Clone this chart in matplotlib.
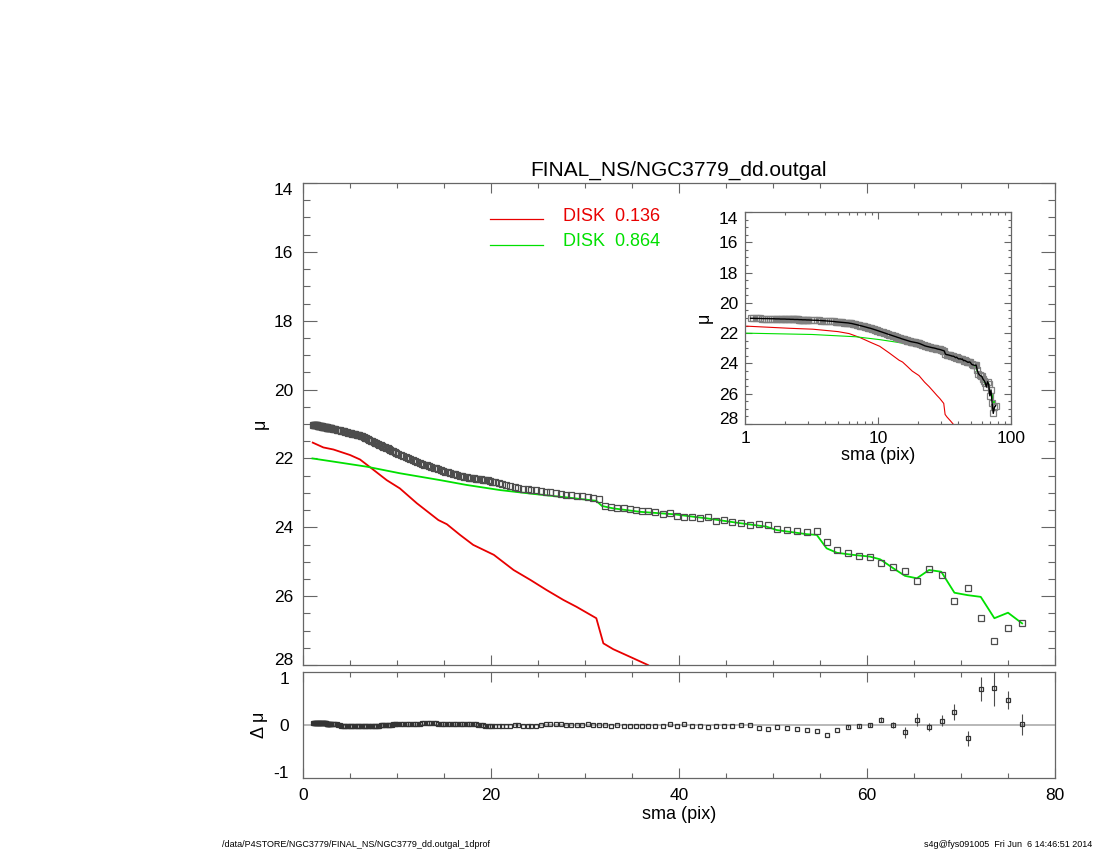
import matplotlib
matplotlib.use('Agg')
import matplotlib.pyplot as plt
import numpy as np
from matplotlib.ticker import MultipleLocator, LogLocator, NullFormatter, FixedLocator

plt.rcParams['font.family'] = ['Liberation Sans', 'DejaVu Sans']

# ---- data ----
# isophote semi-major axes (pix)
sma = [1.10, 1.15, 1.20, 1.25, 1.30, 1.35, 1.40, 1.45, 1.50, 1.55, 1.60, 1.65, 1.70,
       1.75, 1.80, 1.85, 1.90, 1.95, 2.00, 2.05, 2.10, 2.15, 2.20, 2.25, 2.30, 2.35,
       2.40, 2.45, 2.50, 2.55, 2.60, 2.65, 2.70, 2.75, 2.80, 2.85, 2.90, 2.95, 3.00,
       3.15, 3.30, 3.45, 3.60, 3.75, 3.90, 4.05, 4.20, 4.35, 4.50, 4.65, 4.80, 4.95,
       5.10, 5.25, 5.40, 5.55, 5.70, 5.85, 6.00, 6.15, 6.30, 6.45, 6.60, 6.75, 6.90,
       7.05, 7.20, 7.35, 7.50, 7.65, 7.80, 7.95, 8.10, 8.25, 8.40, 8.55, 8.70, 8.85,
       9.00, 9.15, 9.30, 9.45, 9.60, 9.75, 9.90,
       10.15, 10.40, 10.65, 10.90, 11.15, 11.40, 11.65, 11.90, 12.15, 12.40, 12.65, 12.90,
       13.15, 13.40, 13.65, 13.90, 14.15, 14.40, 14.65, 14.90, 15.15, 15.40, 15.65, 15.90,
       16.15, 16.40, 16.65, 16.90, 17.15, 17.40, 17.65, 17.90, 18.15, 18.40, 18.65, 18.90,
       19.15, 19.40, 19.65, 19.90, 20.15, 20.40,
       20.8, 21.2, 21.6, 22.0, 22.5, 22.9, 23.4, 23.9, 24.3, 24.8, 25.3, 25.8, 26.3, 26.9,
       27.4, 28.0, 28.5, 29.1, 29.7, 30.3, 30.9, 31.5, 32.1, 32.8, 33.4, 34.1, 34.8, 35.4,
       36.03, 36.74, 37.45, 38.26, 39.04, 39.75, 40.57, 41.42, 42.23, 43.05, 43.94, 44.79,
       45.67, 46.6, 47.55, 48.51, 49.43, 50.46, 51.45, 52.52, 53.58, 54.65, 55.74, 56.84,
       57.98, 59.15, 60.32, 61.53, 62.8, 64.04, 65.29, 66.63, 67.94, 69.29, 70.71, 72.1,
       73.55, 75.0, 76.52]

# surface brightness (mag/arcsec^2)
mu = [21.02, 21.02, 21.03, 21.03, 21.03, 21.04, 21.04, 21.04, 21.04, 21.05, 21.05, 21.05,
      21.06, 21.06, 21.06, 21.07, 21.07, 21.07, 21.07, 21.08, 21.08, 21.08, 21.09, 21.09,
      21.09, 21.10, 21.10, 21.10, 21.10, 21.11, 21.11, 21.11, 21.12, 21.12, 21.12, 21.12,
      21.13, 21.13, 21.13,
      21.14, 21.15, 21.15, 21.16, 21.17, 21.18, 21.19, 21.20, 21.21, 21.22, 21.23, 21.25,
      21.26, 21.27, 21.28, 21.29, 21.30, 21.31, 21.32, 21.33, 21.35, 21.36, 21.38, 21.40,
      21.42, 21.44, 21.46, 21.48, 21.50, 21.52, 21.54, 21.56, 21.58, 21.60, 21.62, 21.64,
      21.66, 21.67, 21.69, 21.71, 21.73, 21.75, 21.77, 21.79, 21.81, 21.83,
      21.87, 21.90, 21.92, 21.95, 21.98, 22.01, 22.04, 22.07, 22.10, 22.12, 22.15, 22.18,
      22.20, 22.22, 22.24, 22.27, 22.29, 22.31, 22.33, 22.36, 22.38, 22.40, 22.42, 22.44,
      22.46, 22.48, 22.50, 22.51, 22.53, 22.54, 22.56, 22.57, 22.58, 22.59, 22.60, 22.61,
      22.62, 22.63, 22.64, 22.65, 22.67, 22.68,
      22.71, 22.74, 22.77, 22.80, 22.84, 22.86, 22.88, 22.90, 22.92, 22.93, 22.95, 22.97,
      22.98, 23.00, 23.02, 23.05, 23.06, 23.08, 23.10, 23.13, 23.15, 23.18, 23.38, 23.42,
      23.43, 23.45, 23.47, 23.49,
      23.52, 23.52, 23.55, 23.62, 23.59, 23.66, 23.71, 23.69, 23.73, 23.71, 23.82, 23.80,
      23.84, 23.88, 23.93, 23.90, 23.93, 24.05, 24.09, 24.11, 24.13, 24.11, 24.44, 24.67,
      24.76, 24.82, 24.86, 25.03, 25.14, 25.28, 25.55, 25.21, 25.38, 26.14, 25.75, 26.63,
      27.30, 26.91, 26.79]

# data - model
dmu = [0.03, 0.03, 0.03, 0.03, 0.03, 0.03, 0.03, 0.03, 0.03, 0.03, 0.03, 0.03, 0.03,
       0.03, 0.03, 0.03, 0.03, 0.03, 0.03, 0.03, 0.03, 0.03, 0.03, 0.03, 0.03, 0.03,
       0.03, 0.03, 0.02, 0.02, 0.02, 0.02, 0.02, 0.02, 0.02, 0.02, 0.02, 0.02, 0.02,
       0.02, 0.01, 0.01, 0.01, 0.00, 0.00,
       -0.01, -0.01, -0.01, -0.01, -0.02, -0.02, -0.02,
       -0.02, -0.02, -0.02, -0.02, -0.02, -0.02,
       -0.02, -0.02, -0.02, -0.02, -0.02, -0.01, -0.01,
       -0.01, -0.01, -0.01, -0.01, -0.01, -0.01, -0.01,
       -0.01, 0.00, 0.00, 0.00, 0.00, 0.00,
       0.00, 0.00, 0.00, 0.00, 0.01, 0.01, 0.01,
       0.01, 0.01, 0.01, 0.01, 0.01, 0.02, 0.02, 0.02, 0.02, 0.02, 0.03, 0.03,
       0.03, 0.03, 0.03, 0.03, 0.03, 0.02, 0.02, 0.02, 0.02, 0.02, 0.02, 0.02,
       0.01, 0.01, 0.01, 0.01, 0.01, 0.01, 0.01, 0.01, 0.01, 0.01, 0.00, 0.00,
       0.00, -0.01, -0.01, -0.02, -0.02, -0.02,
       -0.02, -0.01, -0.01, -0.01, 0.00, 0.00, -0.01, -0.02, -0.02, -0.01, 0.00, 0.01,
       0.01, 0.01, 0.01, 0.00, 0.00, 0.00, 0.00, 0.01, 0.00, 0.00, 0.00, -0.01,
       0.00, -0.01, -0.01, -0.01,
       -0.01, -0.01, -0.01, -0.02, 0.01, -0.01, 0.01, -0.01, -0.01, -0.03, -0.01, -0.01,
       -0.01, 0.00, 0.00, -0.05, -0.08, -0.04, -0.05, -0.07, -0.10, -0.12, -0.18, -0.09,
       -0.03, -0.02, 0.00, 0.10, 0.00, -0.14, 0.10, -0.04, 0.08, 0.25, -0.25, 0.68,
       0.70, 0.48, 0.01]

# error bars of the outer points
err_sma = [57.98, 59.15, 60.32, 61.53, 62.8, 64.04, 65.29, 66.63, 67.94, 69.29, 70.71,
           72.1, 73.55, 75.0, 76.52]
err_dmu = [-0.03, -0.02, 0.00, 0.10, 0.00, -0.14, 0.10, -0.04, 0.08, 0.25, -0.25,
           0.68, 0.70, 0.48, 0.01]
err_val = [0.03, 0.03, 0.04, 0.05, 0.06, 0.10, 0.12, 0.08, 0.10, 0.15, 0.14,
           0.22, 0.34, 0.17, 0.19]

# model components
red_sma = [1.03, 2.16, 3.23, 5.0, 6.06, 7.3, 8.9, 10.3, 12.1, 14.4, 15.3, 16.7, 18.1,
           20.3, 22.4, 24.2, 25.9, 27.7, 29.1, 31.2, 31.95, 33.0, 35.1, 36.7, 40.0]
red_mu = [21.54, 21.68, 21.74, 21.90, 22.03, 22.29, 22.63, 22.87, 23.30, 23.79, 23.91,
          24.22, 24.51, 24.80, 25.24, 25.53, 25.82, 26.11, 26.31, 26.64, 27.37, 27.54,
          27.80, 28.0, 28.6]

green_sma = [1.0, 3.2, 6.8, 10.3, 14.6, 17.4, 21.0, 24.5, 28.0, 31.2, 31.8, 33.0, 35.85,
             39.4, 42.95, 46.5, 49.3, 50.4, 53.6, 54.65, 55.7, 56.8, 58.5, 60.3, 61.4,
             62.8, 64.04, 65.3, 66.6, 67.9, 69.3, 70.7, 72.1, 73.55, 75.0, 76.5]
green_mu = [22.0, 22.09, 22.24, 22.43, 22.63, 22.77, 22.92, 23.03, 23.13, 23.23, 23.38,
            23.45, 23.55, 23.62, 23.74, 23.88, 23.98, 24.08, 24.20, 24.22, 24.61, 24.74,
            24.80, 24.85, 24.93, 25.19, 25.41, 25.48, 25.24, 25.29, 25.90, 25.97, 26.02,
            26.64, 26.48, 26.79]

RED = '#e80000'
GREEN = '#00e000'
AXC = '0.4'

fig = plt.figure(figsize=(11, 8.5), dpi=100)
ax = fig.add_axes([0.2755, 0.2176, 0.6836, 0.5671])
axr = fig.add_axes([0.2755, 0.0847, 0.6836, 0.1247])
axi = fig.add_axes([0.6773, 0.5012, 0.2418, 0.2494])

for a in (ax, axr, axi):
    for s in a.spines.values():
        s.set_color(AXC)
        s.set_linewidth(0.9)
    a.tick_params(which='both', direction='in', top=True, right=True, color=AXC,
                  width=0.8, labelsize=12.5, pad=7)

# ---- main panel ----
ax.plot(red_sma, red_mu, color=RED, lw=1.3, zorder=2)
ax.plot(green_sma, green_mu, color=GREEN, lw=1.3, zorder=2)
ax.plot(sma, mu, 's', ms=4.0, mfc='none', mec='0.3', mew=0.9, zorder=3)
ax.set_xlim(0, 80)
ax.set_ylim(28, 14)
ax.xaxis.set_major_locator(MultipleLocator(20))
ax.xaxis.set_minor_locator(MultipleLocator(5))
ax.yaxis.set_major_locator(MultipleLocator(2))
ax.yaxis.set_minor_locator(MultipleLocator(0.5))
ax.tick_params(axis='x', which='major', length=7)
ax.tick_params(axis='x', which='minor', length=3.5)
ax.tick_params(axis='y', which='major', length=10)
ax.tick_params(axis='y', which='minor', length=5)
ax.tick_params(labelbottom=False)
ax.set_ylabel('μ', fontsize=13)
ax.yaxis.set_label_coords(-0.046, 0.5)

ax.plot([0.249, 0.319], [0.925, 0.925], transform=ax.transAxes, color=RED, lw=0.9)
ax.plot([0.249, 0.319], [0.871, 0.871], transform=ax.transAxes, color=GREEN, lw=0.9)
ax.text(0.346, 0.931, 'DISK  0.136', transform=ax.transAxes, color=RED,
        fontsize=13, va='center', ha='left')
ax.text(0.346, 0.879, 'DISK  0.864', transform=ax.transAxes, color=GREEN,
        fontsize=13, va='center', ha='left')

# ---- residual panel ----
axr.axhline(0, color='0.72', lw=1.4, zorder=1)
axr.errorbar(err_sma, err_dmu, yerr=err_val, fmt='none', ecolor='0.3', elinewidth=0.8,
             capsize=0, zorder=2)
axr.plot(sma, dmu, 's', ms=3.4, mfc='none', mec='0.2', mew=0.9, zorder=3)
axr.set_xlim(0, 80)
axr.set_ylim(-1, 1)
axr.xaxis.set_major_locator(MultipleLocator(20))
axr.xaxis.set_minor_locator(MultipleLocator(5))
axr.yaxis.set_major_locator(FixedLocator([-1, 0, 1]))
axr.tick_params(axis='x', which='major', length=7)
axr.tick_params(axis='x', which='minor', length=3.5)
axr.tick_params(axis='y', which='major', length=0, pad=10)
axr.set_yticklabels(['-1', '0', '1'])
axr.set_xlabel('sma (pix)', fontsize=13, labelpad=2)
axr.set_ylabel('Δ μ', fontsize=13)
axr.yaxis.set_label_coords(-0.046, 0.5)

# ---- inset, log sma ----
axi.plot(red_sma, red_mu, color=RED, lw=0.8, zorder=2)
axi.plot(green_sma, green_mu, color=GREEN, lw=0.8, zorder=2)
axi.plot(sma, mu, 's', ms=3.8, mfc='none', mec='0.5', mew=0.9, zorder=3)
axi.plot(sma, mu, '-', color='black', lw=1.0, zorder=4)
axi.set_xscale('log')
axi.set_xlim(1, 100)
axi.set_ylim(28, 14)
axi.xaxis.set_minor_locator(LogLocator(base=10, subs=[2, 3, 4, 5, 6, 7, 8, 9]))
axi.xaxis.set_minor_formatter(NullFormatter())
axi.set_xticks([1, 10, 100])
axi.set_xticklabels(['1', '10', '100'])
axi.yaxis.set_major_locator(MultipleLocator(2))
axi.yaxis.set_minor_locator(MultipleLocator(0.5))
axi.tick_params(which='major', length=5, pad=5)
axi.tick_params(which='minor', length=2.5)
axi.set_xlabel('sma (pix)', fontsize=13, labelpad=1)
axi.set_ylabel('μ', fontsize=13, labelpad=4)

# ---- texts ----
fig.text(0.617, 0.80, 'FINAL_NS/NGC3779_dd.outgal', ha='center', va='center', fontsize=15)
fig.text(222 / 1100, 0.006, '/data/P4STORE/NGC3779/FINAL_NS/NGC3779_dd.outgal_1dprof',
         ha='left', va='center', fontsize=6.5)
fig.text(1092 / 1100, 0.006, 's4g@fys091005  Fri Jun  6 14:46:51 2014',
         ha='right', va='center', fontsize=6.5)

# end labels sit inside the box, like IDL does it
fig.canvas.draw()
for a, top_val, bot_val in ((ax, 14, 28), (axi, 14, 28), (axr, 1, -1)):
    for t in a.yaxis.get_major_ticks():
        loc = t.get_loc()
        if abs(loc - top_val) < 1e-6:
            t.label1.set_va('top')
        elif abs(loc - bot_val) < 1e-6:
            t.label1.set_va('baseline')

fig.savefig('out.png', dpi=100)
